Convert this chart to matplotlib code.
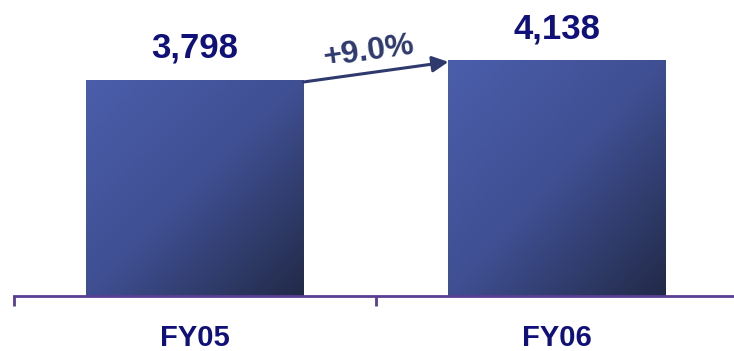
import numpy as np
import matplotlib.pyplot as plt
from matplotlib.colors import LinearSegmentedColormap

years = ['FY05', 'FY06']
values = [3798, 4138]
growth_label = '+9.0%'

navy = '#10107a'
slate = '#2e3a6e'
axis_col = '#5a3d94'
cmap = LinearSegmentedColormap.from_list('bar', ['#4b5eab', '#3f4f92', '#222a48'])

plt.rcParams['font.family'] = ['Liberation Sans', 'DejaVu Sans']

fig = plt.figure(figsize=(7.34, 3.51), dpi=100)
ax = fig.add_axes([14 / 734, 55 / 351, 724 / 734, 296 / 351])

x = np.arange(len(years))
width = 0.6
bars = ax.bar(x, values, width=width, color='none', edgecolor='none', zorder=2)

# diagonal gradient clipped to each bar (light top-left, dark bottom-right)
grad_u, grad_v = np.meshgrid(np.linspace(0, 1, 200), np.linspace(0, 1, 200))
grad = (grad_u + grad_v) / 2
for b in bars:
    x0, y0 = b.get_x(), b.get_y()
    im = ax.imshow(grad, cmap=cmap, extent=(x0, x0 + b.get_width(), y0, y0 + b.get_height()),
                   origin='upper', aspect='auto', zorder=2, interpolation='bilinear')
    im.set_clip_path(b)

for xi, v in zip(x, values):
    ax.annotate(f'{v:,}', (xi, v), xytext=(0, 16), textcoords='offset points',
                ha='center', va='baseline', fontsize=25, fontweight='bold', color=navy)

# growth arrow
ax.annotate('', xy=(x[1] - width / 2, values[1] * 0.994), xytext=(x[0] + width / 2, values[0] * 0.99),
            arrowprops=dict(arrowstyle='-|>', color=slate, lw=2.2, mutation_scale=24, shrinkA=0, shrinkB=0),
            zorder=3)
ax.text(0.48, 4290, growth_label, ha='center', va='center', rotation=8,
        fontsize=23, fontweight='bold', color=slate)

ax.set_xlim(-0.5, 1.5)
ax.set_ylim(0, 5200)
ax.set_yticks([])
ax.set_xticks([-0.5, 0.5, 1.5])
ax.set_xticklabels([])
ax.set_xticks(x, minor=True)
ax.set_xticklabels(years, minor=True, fontsize=21, fontweight='bold', color=navy)
ax.tick_params(axis='x', which='major', direction='out', length=7, width=2, color=axis_col)
ax.tick_params(axis='x', which='minor', length=0, pad=20)
for s in ['top', 'right', 'left']:
    ax.spines[s].set_visible(False)
ax.spines['bottom'].set_color(axis_col)
ax.spines['bottom'].set_linewidth(2)

fig.savefig('out.png', dpi=100)
